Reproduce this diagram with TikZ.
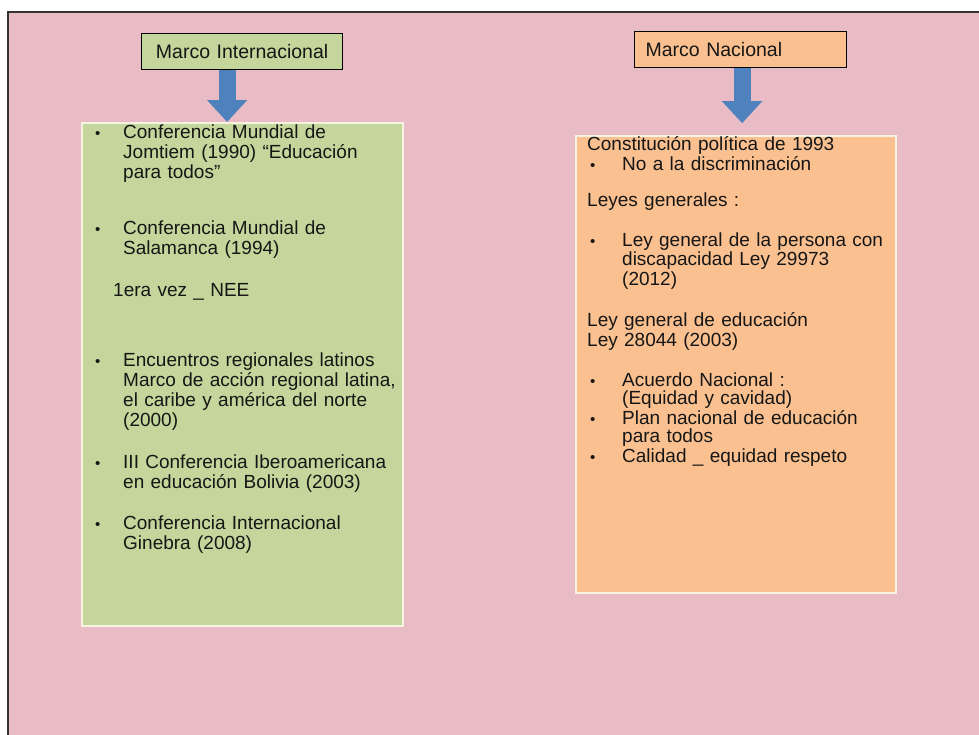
\documentclass[tikz,border=0pt]{standalone}
\usepackage{fontspec}
\setmainfont{Liberation Sans}
\usetikzlibrary{arrows.meta}
\definecolor{bgpink}{RGB}{233,188,197}
\definecolor{leafgreen}{RGB}{196,214,155}
\definecolor{peach}{RGB}{250,192,144}
\definecolor{arrowblue}{RGB}{79,129,189}
\definecolor{inkgray}{RGB}{22,22,22}
\definecolor{rimcream}{RGB}{246,242,226}
\begin{document}
\begin{tikzpicture}[
    x=1pt, y=1pt,
    every node/.style={text=inkgray, font=\fontsize{19}{20}\selectfont}, % Default text
    titlebox/.style={draw=black, line width=1.2pt, minimum width=201pt, minimum height=36pt, anchor=north west, inner sep=0pt},
    panel/.style={draw=rimcream, line width=1.5pt, anchor=north west, inner sep=0pt},
    txt/.style={anchor=base west, inner sep=0pt, text width=#1, align=left},
    tight/.style={font=\fontsize{19}{18.5}\selectfont},
    dot/.style={anchor=base west, inner sep=0pt, font=\fontsize{15}{20}\selectfont}, % Bullet style
    blockarrow/.style={draw=arrowblue, line width=17pt, -{Triangle[length=22pt, width=39pt]}}
]

    % --- PAGE ---
    \useasboundingbox (0,0) rectangle (979,-734);
    \clip (0,0) rectangle (979,-734);
    \fill[white] (0,0) rectangle (979,-734);
    \draw[fill=bgpink, draw=black!80, line width=1.5pt] (8,-12) rectangle (995,-750);

    % --- LEFT COLUMN (Marco Internacional) ---

    % Title and panel
    \node[titlebox, fill=leafgreen, text width=185pt, align=center, font=\fontsize{19.5}{20}\selectfont] (intl) at (141,-33) {Marco Internacional};
    \node[panel, fill=leafgreen, minimum width=321pt, minimum height=503pt] (intlpanel) at (81,-122) {};

    % Arrow
    \draw[blockarrow] ([xshift=-15pt]intl.south) -- ([xshift=-15pt]intl.south |- intlpanel.north);

    % Items
    \node[dot] (b1) at (95,-138) {•};
    \node[txt=300pt] (jomtiem) at (123,-138) {Conferencia Mundial de\\Jomtiem (1990) “Educación\\para todos”};
    \node[dot] (b2) at (95,-234) {•};
    \node[txt=300pt] (salamanca) at (123,-234) {Conferencia Mundial de\\Salamanca (1994)};
    \node[txt=300pt] (nee) at (113,-296) {1era vez \_ NEE};
    \node[dot] (b3) at (95,-366) {•};
    \node[txt=300pt] (encuentros) at (123,-366) {Encuentros regionales latinos\\Marco de acción regional latina,\\el caribe y américa del norte\\(2000)};
    \node[dot] (b4) at (95,-468) {•};
    \node[txt=300pt] (bolivia) at (123,-468) {III Conferencia Iberoamericana\\en educación Bolivia (2003)};
    \node[dot] (b5) at (95,-529) {•};
    \node[txt=300pt] (ginebra) at (123,-529) {Conferencia Internacional\\Ginebra (2008)};

    % --- RIGHT COLUMN (Marco Nacional) ---

    % Title and panel
    \node[titlebox, fill=peach, text width=190pt, align=left, inner xsep=11pt, font=\fontsize{19.5}{20}\selectfont] (natl) at (634,-31) {Marco Nacional};
    \node[panel, fill=peach, minimum width=320pt, minimum height=457pt] (natlpanel) at (575,-135) {};

    % Arrow
    \draw[blockarrow] ([xshift=1.5pt]natl.south) -- ++(0,-55);

    % Items
    \node[txt=300pt] (constitucion) at (587,-150) {Constitución política de 1993};
    \node[dot] (c1) at (590,-170) {•};
    \node[txt=260pt] (discrim) at (622,-170) {No a la discriminación};
    \node[txt=300pt] (leyes) at (587,-206) {Leyes generales :};
    \node[dot] (c2) at (590,-246) {•};
    \node[txt=280pt, font=\fontsize{19}{19.5}\selectfont] (persona) at (622,-246) {Ley general de la persona con\\discapacidad Ley 29973\\(2012)};
    \node[txt=300pt] (educacion) at (587,-326) {Ley general de educación\\Ley 28044 (2003)};
    \node[dot] (c3) at (590,-386) {•};
    \node[txt=260pt, tight] (acuerdo) at (622,-386) {Acuerdo Nacional :\\(Equidad y cavidad)};
    \node[dot] (c4) at (590,-424) {•};
    \node[txt=260pt, tight] (plan) at (622,-424) {Plan nacional de educación\\para todos};
    \node[dot] (c5) at (590,-462) {•};
    \node[txt=260pt] (calidad) at (622,-462) {Calidad \_ equidad respeto};

\end{tikzpicture}
\end{document}
